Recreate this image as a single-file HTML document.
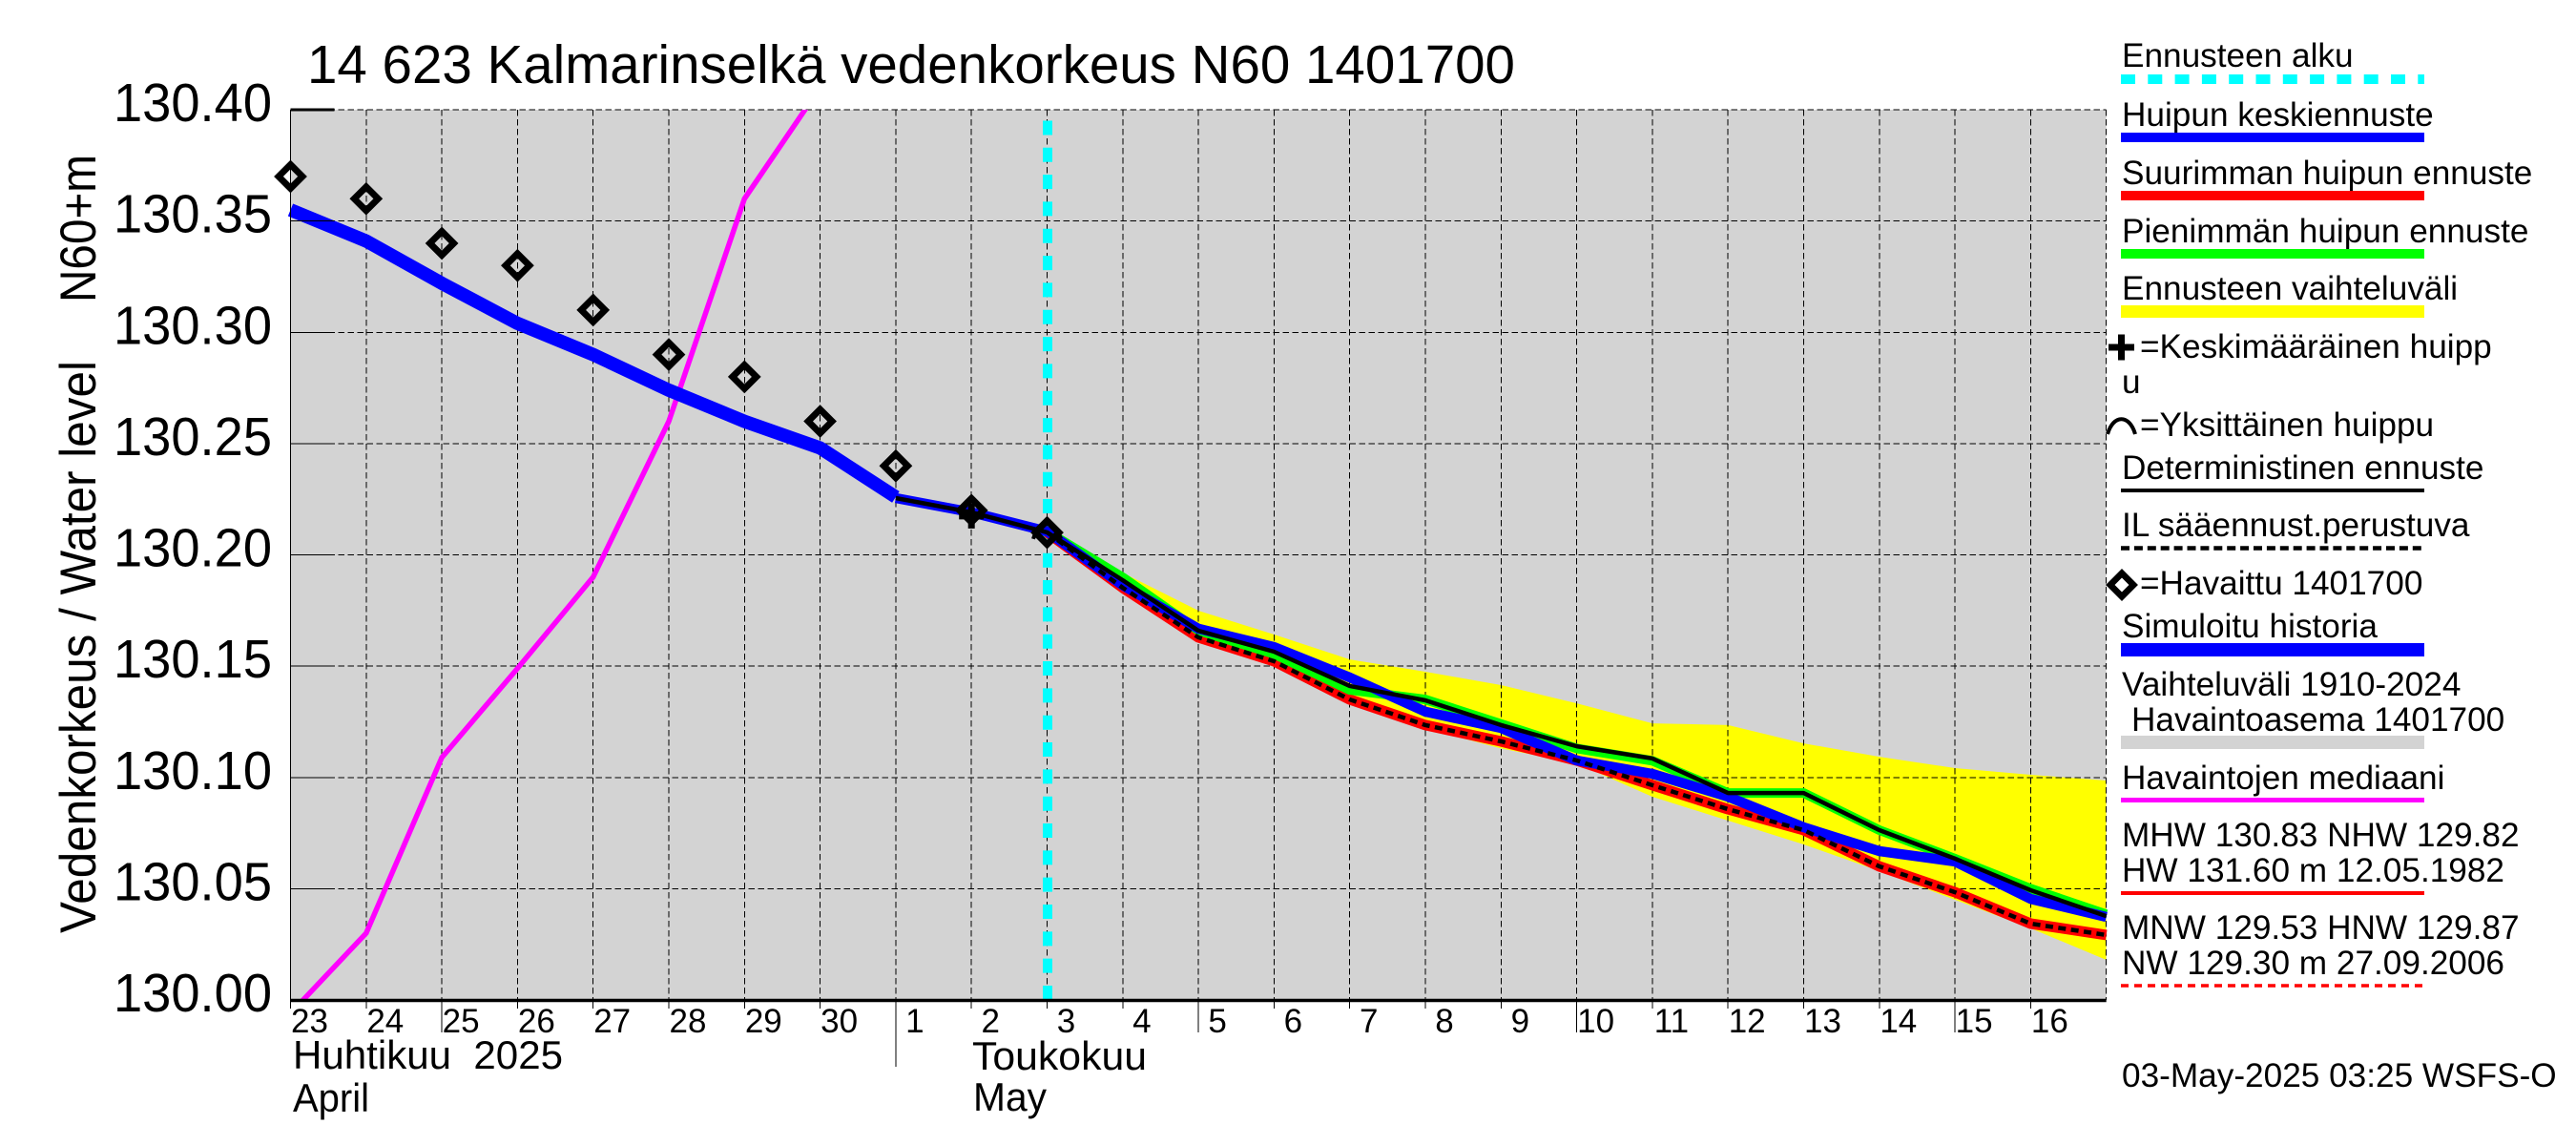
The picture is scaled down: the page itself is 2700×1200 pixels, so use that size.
<!DOCTYPE html>
<html lang="fi">
<head>
<meta charset="utf-8">
<title>14 623 Kalmarinselkä vedenkorkeus N60 1401700</title>
<style>
html,body{margin:0;padding:0;background:#fff;}
svg{display:block;}
text{font-family:"Liberation Sans",Arial,sans-serif;fill:#000;}
.lg{font-size:35.2px;}
.day{font-size:35px;text-anchor:middle;}
.ytick{font-size:57px;text-anchor:end;}
.mon{font-size:42px;}
</style>
</head>
<body>
<svg id="chart" xmlns="http://www.w3.org/2000/svg" width="2700" height="1200" viewBox="0 0 2700 1200">
  <rect x="0" y="0" width="2700" height="1200" fill="#ffffff"/>
  <defs><clipPath id="plot-clip"><rect x="304.5" y="115" width="1903.2" height="933"/></clipPath></defs>
  <rect x="304.5" y="115" width="1903.2" height="933" fill="#d3d3d3"/>
  <g id="grid"></g>
  <g id="series"></g>
  <g id="axes"></g>

  <text x="322" y="87" font-size="57" textLength="1266" lengthAdjust="spacingAndGlyphs">14 623 Kalmarinselkä vedenkorkeus N60 1401700</text>
  <text transform="translate(100,978) rotate(-90)" font-size="53" textLength="600" lengthAdjust="spacingAndGlyphs">Vedenkorkeus / Water level</text>
  <text transform="translate(100,317) rotate(-90)" font-size="53" textLength="155" lengthAdjust="spacingAndGlyphs">N60+m</text>
  <text class="mon" x="307" y="1120" textLength="283" lengthAdjust="spacingAndGlyphs" xml:space="preserve">Huhtikuu  2025</text>
  <text class="mon" x="307" y="1165" textLength="80" lengthAdjust="spacingAndGlyphs">April</text>
  <text class="mon" x="1019" y="1121" textLength="183" lengthAdjust="spacingAndGlyphs">Toukokuu</text>
  <text class="mon" x="1020" y="1164" textLength="77" lengthAdjust="spacingAndGlyphs">May</text>

  <g>
    <text class="lg" x="2224" y="70">Ennusteen alku</text>
    <line x1="2223" y1="83" x2="2541" y2="83" stroke="#00ffff" stroke-width="10" stroke-dasharray="15 13.3"/>
    <text class="lg" x="2224" y="132">Huipun keskiennuste</text>
    <rect x="2223" y="139" width="318" height="10" fill="#0000ff"/>
    <text class="lg" x="2224" y="193">Suurimman huipun ennuste</text>
    <rect x="2223" y="200" width="318" height="10" fill="#ff0000"/>
    <text class="lg" x="2224" y="254">Pienimmän huipun ennuste</text>
    <rect x="2223" y="261" width="318" height="10" fill="#00ff00"/>
    <text class="lg" x="2224" y="314">Ennusteen vaihteluväli</text>
    <rect x="2223" y="320" width="318" height="13" fill="#ffff00"/>
    <path d="M2210 360.5h10v-10h7v10h10v7h-10v10h-7v-10h-10z" fill="#000"/>
    <text class="lg" x="2243" y="375">=Keskimääräinen huipp</text>
    <text class="lg" x="2224" y="412">u</text>
    <path d="M2209 455C2215 434 2232 434 2238 455" fill="none" stroke="#000" stroke-width="4"/>
    <text class="lg" x="2243" y="457">=Yksittäinen huippu</text>
    <text class="lg" x="2224" y="502">Deterministinen ennuste</text>
    <rect x="2223" y="512" width="318" height="4" fill="#000"/>
    <text class="lg" x="2224" y="562">IL sääennust.perustuva</text>
    <line x1="2223" y1="574.5" x2="2541" y2="574.5" stroke="#000" stroke-width="4.5" stroke-dasharray="9 4.9"/>
    <polygon points="2224,600.8 2236.2,613 2224,625.2 2211.8,613" fill="#fff" stroke="#000" stroke-width="6.7" stroke-linejoin="miter"/>
    <text class="lg" x="2243" y="623">=Havaittu 1401700</text>
    <text class="lg" x="2224" y="668">Simuloitu historia</text>
    <rect x="2223" y="674" width="318" height="14" fill="#0000ff"/>
    <text class="lg" x="2224" y="729">Vaihteluväli 1910-2024</text>
    <text class="lg" x="2234" y="766">Havaintoasema 1401700</text>
    <rect x="2223" y="771" width="318" height="14" fill="#d3d3d3"/>
    <text class="lg" x="2224" y="827">Havaintojen mediaani</text>
    <rect x="2223" y="836" width="318" height="5" fill="#ff00ff"/>
    <text class="lg" x="2224" y="887">MHW 130.83 NHW 129.82</text>
    <text class="lg" x="2224" y="924">HW 131.60 m 12.05.1982</text>
    <rect x="2223" y="934" width="318" height="4" fill="#ff0000"/>
    <text class="lg" x="2224" y="984">MNW 129.53 HNW 129.87</text>
    <text class="lg" x="2224" y="1021">NW 129.30 m 27.09.2006</text>
    <line x1="2223" y1="1033" x2="2541" y2="1033" stroke="#ff0000" stroke-width="3.5" stroke-dasharray="8 6"/>
  </g>
  <text class="lg" x="2224" y="1139">03-May-2025 03:25 WSFS-O</text>
</svg>

<script>
// ---- chart data ----
const dayLabels = ['23','24','25','26','27','28','29','30','1','2','3','4','5','6','7','8','9','10','11','12','13','14','15','16'];
const yTickLabels = ['130.00','130.05','130.10','130.15','130.20','130.25','130.30','130.35','130.40'];
const yTickValues = [130.00,130.05,130.10,130.15,130.20,130.25,130.30,130.35,130.40];
const longTickDays = ['25','5','10','15'];
const monthStartDay = '1';
const forecastStartIndex = 10;
const observed = [130.370,130.360,130.340,130.330,130.310,130.290,130.280,130.260,130.240,130.220,130.210];
const simulated = [130.355,130.341,130.322,130.304,130.290,130.274,130.260,130.248,130.226];
const median = [129.994,130.030,130.109,130.149,130.190,130.260,130.360,130.410];
const meanForecast = [null,null,null,null,null,null,null,null,130.2255,130.2191,130.2105,130.1863,130.1668,130.1586,130.1449,130.1295,130.1222,130.1076,130.1016,130.0913,130.0776,130.0669,130.0622,130.0454,130.0373];
const deterministic = [null,null,null,null,null,null,null,null,130.2255,130.2191,130.2101,130.1886,130.1659,130.1565,130.1411,130.1346,130.1235,130.1140,130.1085,130.0930,130.0930,130.0763,130.0635,130.0493,130.0377];
const maxPeak = [null,null,null,null,null,null,null,null,null,null,130.2101,130.1852,130.1629,130.1522,130.1350,130.1235,130.1162,130.1076,130.0965,130.0857,130.0763,130.0600,130.0484,130.0343,130.0292];
const minPeak = [null,null,null,null,null,null,null,null,null,null,130.2105,130.1899,130.1660,130.1555,130.1393,130.1350,130.1240,130.1130,130.1075,130.0930,130.0930,130.0763,130.0635,130.0500,130.0385];
const weatherBased = [null,null,null,null,null,null,null,null,null,null,130.2101,130.1852,130.1629,130.1522,130.1350,130.1235,130.1162,130.1076,130.0965,130.0857,130.0763,130.0600,130.0484,130.0343,130.0292];
const rangeUpper = [null,null,null,null,null,null,null,null,null,null,130.2105,130.192,130.1749,130.1642,130.153,130.1475,130.1415,130.1333,130.1243,130.1235,130.1153,130.1093,130.1042,130.1012,130.0986];
const rangeLower = [null,null,null,null,null,null,null,null,null,null,130.2095,130.183,130.162,130.150,130.133,130.122,130.113,130.1063,130.0913,130.0806,130.0699,130.0579,130.045,130.0322,130.018];
const averagePeak = [{i:9,v:130.2174}];
const singlePeak = [{i:10,v:130.2110}];

// ---- axis functions ----
const NS = 'http://www.w3.org/2000/svg';
const PLOT_LEFT = 304.5, DAY_W = 79.3, PLOT_BOTTOM = 1048, PX_PER_M = 2332.5, AXIS_MIN = 130;
const PLOT_RIGHT = 2207.7, PLOT_TOP = 115;
function xOf(i){ return PLOT_LEFT + i * DAY_W; }
function yOf(v){ return PLOT_BOTTOM - (v - AXIS_MIN) * PX_PER_M; }
function mk(parent, tag, attrs, txt){
  const el = document.createElementNS(NS, tag);
  for (const k in attrs) el.setAttribute(k, attrs[k]);
  if (txt !== undefined) el.textContent = txt;
  parent.appendChild(el);
  return el;
}
function linePts(arr){
  const p = [];
  arr.forEach(function(v,i){ if (v !== null) p.push(xOf(i).toFixed(1)+','+yOf(v).toFixed(1)); });
  return p.join(' ');
}
const gridG = document.getElementById('grid');
const seriesG = document.getElementById('series');
const axesG = document.getElementById('axes');

// grid
yTickValues.forEach(function(v,i){
  const g = mk(gridG,'line',{x1:PLOT_LEFT,x2:PLOT_RIGHT,y1:yOf(v),y2:yOf(v),stroke:'#000','stroke-width':1,'stroke-dasharray':'6.5 3.5','shape-rendering':'crispEdges'});
  
  
});
for (let i = 0; i <= dayLabels.length; i++){
  const g = mk(gridG,'line',{x1:xOf(i),x2:xOf(i),y1:PLOT_TOP,y2:PLOT_BOTTOM,stroke:'#000','stroke-width':1,'stroke-dasharray':'6.5 3.5','shape-rendering':'crispEdges'});
  
  
}

// forecast range band
(function(){
  const up = [], lo = [];
  rangeUpper.forEach(function(v,i){ if (v !== null) up.push(xOf(i).toFixed(1)+','+yOf(v).toFixed(1)); });
  rangeLower.forEach(function(v,i){ if (v !== null) lo.unshift(xOf(i).toFixed(1)+','+yOf(v).toFixed(1)); });
  const band = mk(seriesG,'polygon',{points:up.concat(lo).join(' '),fill:'#ffff00','clip-path':'url(#plot-clip)'});
  
  
})();

// grid shows through the band: redraw on top
Array.from(gridG.children).forEach(function(c){
  const d = c.cloneNode(true);
  
  
  seriesG.appendChild(d);
});

// forecast start (sits beneath the series lines)
const startLine = mk(seriesG,'line',{x1:xOf(forecastStartIndex)+0.5,x2:xOf(forecastStartIndex)+0.5,y1:PLOT_BOTTOM,y2:PLOT_TOP,stroke:'#00ffff','stroke-width':10,'stroke-dasharray':'15 13.33'});



// median
const medianLine = mk(seriesG,'polyline',{points:linePts(median),fill:'none',stroke:'#ff00ff','stroke-width':5.5,'clip-path':'url(#plot-clip)'});



// simulated history
const simLine = mk(seriesG,'polyline',{points:linePts(simulated),fill:'none',stroke:'#0000ff','stroke-width':14,'stroke-linejoin':'round'});



// forecasts
const maxLine = mk(seriesG,'polyline',{points:linePts(maxPeak),fill:'none',stroke:'#ff0000','stroke-width':11,'stroke-linejoin':'round'});



const minLine = mk(seriesG,'polyline',{points:linePts(minPeak),fill:'none',stroke:'#00ff00','stroke-width':10,'stroke-linejoin':'round'});



const meanLine = mk(seriesG,'polyline',{points:linePts(meanForecast),fill:'none',stroke:'#0000ff','stroke-width':10.5,'stroke-linejoin':'round'});



const detLine = mk(seriesG,'polyline',{points:linePts(deterministic),fill:'none',stroke:'#000','stroke-width':4.5,'stroke-linejoin':'round'});



const ilLine = mk(seriesG,'polyline',{points:linePts(weatherBased),fill:'none',stroke:'#000','stroke-width':4.5,'stroke-dasharray':'8 5.5'});



// peak markers
averagePeak.forEach(function(p){
  const cx = xOf(p.i), cy = yOf(p.v);
  const m = mk(seriesG,'path',{d:'M'+(cx-13)+' '+(cy-3.5)+'h9.5v-9.5h7v9.5h9.5v7h-9.5v9.5h-7v-9.5h-9.5z',fill:'#000'});
  
  
});
singlePeak.forEach(function(p){
  const cx = xOf(p.i), cy = yOf(p.v);
  const m = mk(seriesG,'path',{d:'M'+(cx-14.5)+' '+(cy+9)+'C'+(cx-8.5)+' '+(cy-12)+' '+(cx+8.5)+' '+(cy-12)+' '+(cx+14.5)+' '+(cy+9),fill:'none',stroke:'#000','stroke-width':4});
  
  
});

// observations
observed.forEach(function(v,i){
  const cx = xOf(i), cy = yOf(v), h = 12.5;
  const pts = cx+','+(cy-h)+' '+(cx+h)+','+cy+' '+cx+','+(cy+h)+' '+(cx-h)+','+cy;
  const m = mk(seriesG,'polygon',{points:pts,fill:'none',stroke:'#000','stroke-width':6.9,'stroke-linejoin':'miter'});
  
  
});

// axes
const leftAxis = mk(axesG,'line',{x1:PLOT_LEFT,x2:PLOT_LEFT,y1:PLOT_TOP,y2:PLOT_BOTTOM,stroke:'#000','stroke-width':1,'shape-rendering':'crispEdges'});


const bottomAxis = mk(axesG,'line',{x1:PLOT_LEFT,x2:PLOT_RIGHT,y1:PLOT_BOTTOM+0.5,y2:PLOT_BOTTOM+0.5,stroke:'#000','stroke-width':3.5});



yTickValues.forEach(function(v,i){
  const isTop = i === yTickValues.length - 1;
  const t = mk(axesG,'line',{x1:PLOT_LEFT,x2:PLOT_LEFT+46,y1:yOf(v),y2:yOf(v),stroke:'#000','stroke-width':isTop?3:1,'shape-rendering':'crispEdges'});
  
  
  const l = mk(axesG,'text',{class:'ytick',x:285,y:yOf(v)+12,textLength:166,lengthAdjust:'spacingAndGlyphs'},yTickLabels[i]);
  
  
});

dayLabels.forEach(function(d,i){
  let end = 1057;
  if (longTickDays.indexOf(d) >= 0) end = 1082;
  if (d === monthStartDay) end = 1118;
  const t = mk(axesG,'line',{x1:xOf(i),x2:xOf(i),y1:PLOT_BOTTOM,y2:end,stroke:'#000','stroke-width':1,'shape-rendering':'crispEdges'});
  
  
  const l = mk(axesG,'text',{class:'day',x:xOf(i)+20,y:1082},d);
  
  
});
</script>
</body>
</html>
